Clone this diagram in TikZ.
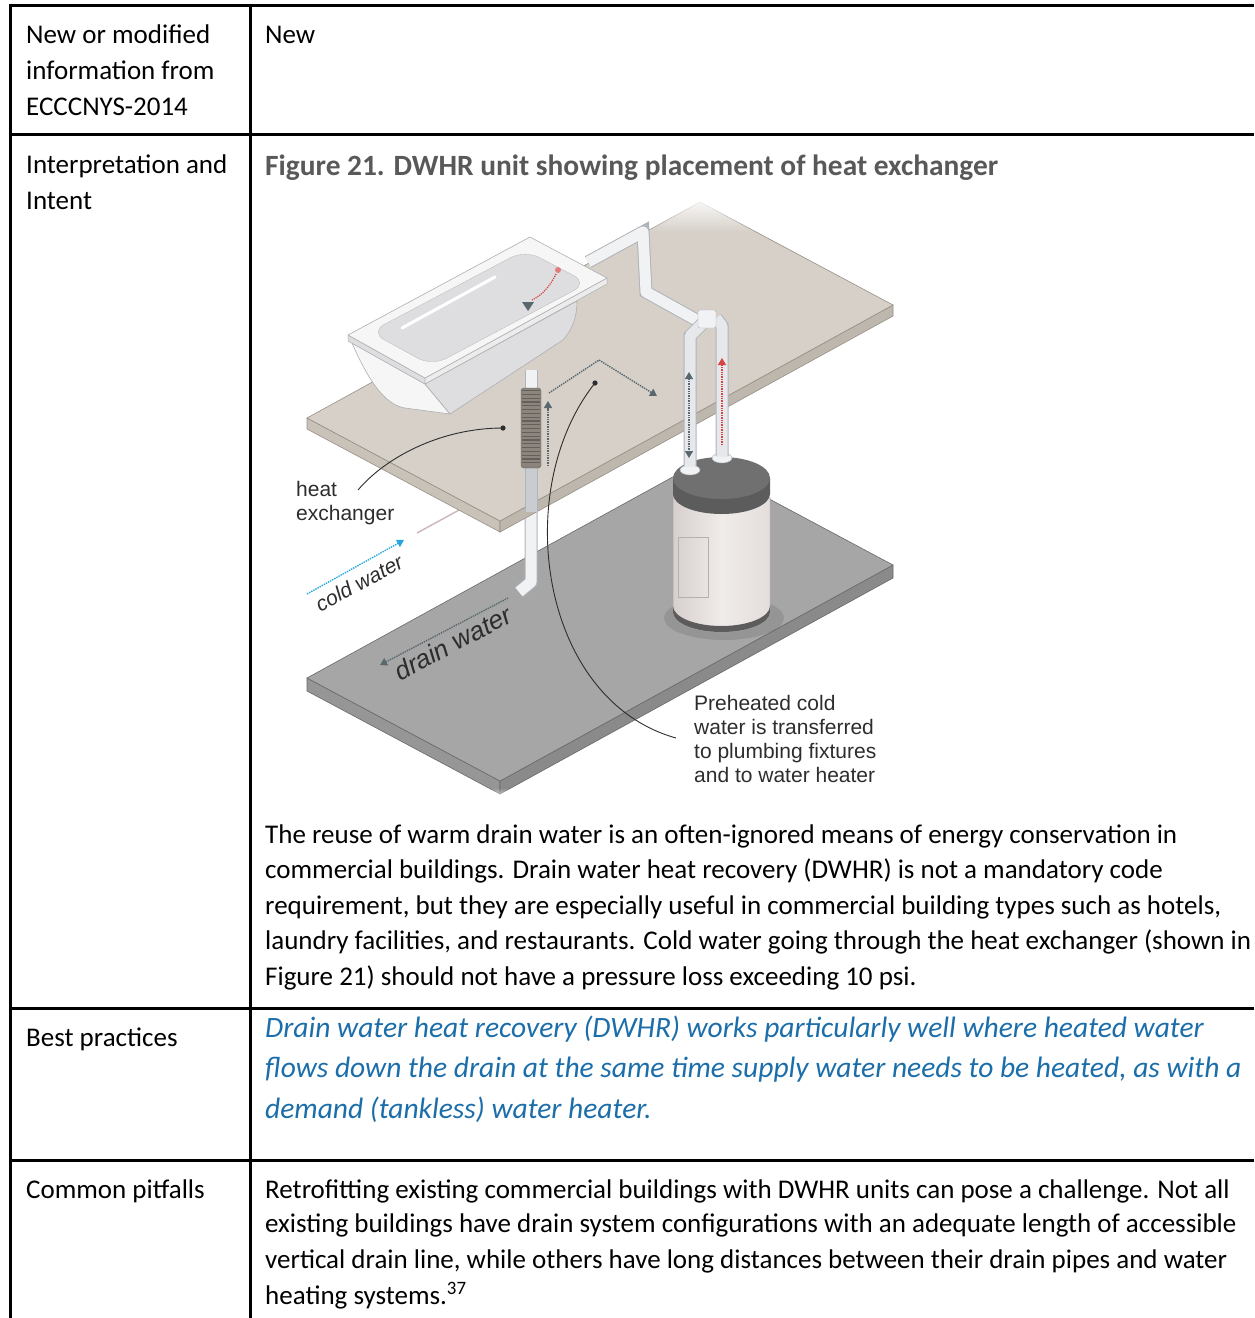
\documentclass[tikz,border=0pt]{standalone}
\usepackage{fontspec}
\setmainfont{Carlito}
\newfontfamily\figfont{Liberation Sans}
\usetikzlibrary{arrows.meta,fadings}

\definecolor{slabtop}{RGB}{214,208,200}
\definecolor{slableft}{RGB}{201,194,185}
\definecolor{slabright}{RGB}{190,183,174}
\definecolor{slabedge}{RGB}{150,143,134}
\definecolor{floortop}{RGB}{166,166,166}
\definecolor{floorleft}{RGB}{150,150,150}
\definecolor{floorright}{RGB}{138,138,138}
\definecolor{flooredge}{RGB}{105,105,105}
\definecolor{pipefill}{RGB}{240,242,244}
\definecolor{pipeedge}{RGB}{175,180,186}
\definecolor{flowgrey}{RGB}{88,104,110}
\definecolor{flowred}{RGB}{214,68,68}
\definecolor{flowblue}{RGB}{38,166,222}
\definecolor{titlegrey}{RGB}{89,89,89}
\definecolor{bestblue}{RGB}{27,110,170}
\definecolor{tubwhite}{RGB}{246,246,246}
\definecolor{tubgrey}{RGB}{222,222,224}
\definecolor{tubedge}{RGB}{175,175,178}
\definecolor{coil}{RGB}{140,133,126}
\definecolor{coildark}{RGB}{100,95,90}
\definecolor{tanklid}{RGB}{112,112,112}
\definecolor{tanklidside}{RGB}{92,92,92}
\definecolor{tankbody}{RGB}{240,236,234}
\definecolor{tankshade}{RGB}{214,207,205}
\definecolor{labelgrey}{RGB}{45,45,45}

\begin{document}
\begin{tikzpicture}[x=1pt,y=-1pt,
	rule/.style={line width=3pt},
	cell/.style={anchor=base west,inner sep=0pt,font=\fontsize{27}{32}\selectfont},
	best/.style={cell,font=\fontsize{29.5}{34}\selectfont\itshape,text=bestblue},
	pipe/.style={line width=11pt,draw=pipefill,line join=round,preaction={draw=pipeedge,line width=13pt}},
	flow/.style={densely dotted,line width=1.4pt,-{Triangle[width=8pt,length=7pt]}},
	figlabel/.style={inner sep=0pt,text=labelgrey,font=\figfont\fontsize{21}{24}\selectfont},
	leader/.style={line width=0.9pt,color=labelgrey},
	]
	\useasboundingbox (0,0) rectangle (1254,1318);
	
	\draw[rule] (10,5)--(1254,5);
	\draw[rule] (10,134)--(1254,134);
	\draw[rule] (10,1008)--(1254,1008);
	\draw[rule] (10,1160)--(1254,1160);
	\draw[rule] (10,3.5)--(10,1318);
	\draw[rule] (250,3.5)--(250,1318);
	
	\node[cell] (lblNew1) at (26,43) {New or modified};
	\node[cell] (lblNew2) at (26,79) {information from};
	\node[cell] (lblNew3) at (26,115) {ECCCNYS-2014};
	\node[cell] (valNew) at (265,43) {New};
	\node[cell] (lblInt1) at (26,173) {Interpretation and};
	\node[cell] (lblInt2) at (26,209) {Intent};
	\node[cell,font=\fontsize{29.4}{32}\selectfont\bfseries,text=titlegrey] (figTitle) at (265,175) {Figure 21. DWHR unit showing placement of heat exchanger};
	
	% lower floor
	\draw[flooredge,line width=0.6pt,fill=floorleft] (307,678)--(500,781)--(500,794)--(307,691)--cycle;
	\draw[flooredge,line width=0.6pt,fill=floorright] (500,781)--(893,565)--(893,578)--(500,794)--cycle;
	\draw[flooredge,line width=0.6pt,fill=floortop] (307,678)--(700,462)--(893,565)--(500,781)--cycle;
	
	% water heater
	\fill[black,opacity=0.1] (724,618) ellipse[x radius=60,y radius=22];
	\shade[left color=tankshade,right color=tankshade!50!tankbody,middle color=tankbody] (673,497)--(673,612) arc[start angle=180,end angle=0,x radius=48.5,y radius=20]--(770,497)--cycle;
	\draw[tankshade!80!black,line width=0.5pt] (673,497)--(673,612) arc[start angle=180,end angle=0,x radius=48.5,y radius=20]--(770,497);
	\fill[tanklidside] (673,606) arc[start angle=180,end angle=0,x radius=48.5,y radius=20]--(770,612) arc[start angle=0,end angle=180,x radius=48.5,y radius=20]--cycle;
	\draw[tankshade!85!black,line width=0.5pt] (678,537) rectangle (708,597);
	\fill[tanklidside] (673,478)--(673,494) arc[start angle=180,end angle=0,x radius=48.5,y radius=20]--(770,478)--cycle;
	\fill[tanklid] (721.5,478) ellipse[x radius=48.5,y radius=21];
	\draw[pipeedge,fill=pipefill] (690,470) ellipse[x radius=10,y radius=5];
	\draw[pipeedge,fill=pipefill] (722,458) ellipse[x radius=10,y radius=5];
	
	% drain under the floor slab
	\draw[pipe] (531,505)--(531,582)--(519,592);
	\draw[flow,flowgrey] (508,598)--(380,665);
	\draw[flow,flowblue] (307,594)--(404,540);
	\draw[line width=1.5pt,color=pipeedge!60!pink] (417,533)--(470,504);
	\node[figlabel,font=\figfont\itshape\fontsize{26}{30}\selectfont,rotate=28] (drainLabel) at (453,643) {drain water};
	\node[figlabel,font=\figfont\itshape\fontsize{21}{24}\selectfont,rotate=28] (coldLabel) at (359,583) {cold water};
	
	% upper floor
	\draw[slabedge,line width=0.6pt,fill=slableft] (307,418)--(500,521)--(500,532)--(307,429)--cycle;
	\draw[slabedge,line width=0.6pt,fill=slabright] (500,521)--(893,305)--(893,316)--(500,532)--cycle;
	\draw[slabedge,line width=0.6pt,fill=slabtop] (307,418)--(700,202)--(893,305)--(500,521)--cycle;
	\fill[white,path fading=south] (590,196) rectangle (820,232);
	\fill[white,path fading=north] (430,788) rectangle (570,800);
	
	% heat exchanger
	\draw[pipe,opacity=0.4] (531,466)--(531,512);
	\draw[pipe] (531,370)--(531,392);
	\draw[coildark,fill=coil,rounded corners=3pt] (521,388) rectangle (541,468);
	\draw[coildark,line width=18pt,dash pattern=on 1.2pt off 2.6pt] (531,390)--(531,466);
	\draw[flow,flowgrey] (548,466)--(548,401);
	\draw[flow,flowgrey] (549,393)--(599,360)--(657,396);
	
	% bathtub
	\draw[tubedge,line width=0.6pt,fill=tubwhite] (352,343) .. controls (368,380) and (385,405) .. (405,408)--(450,414)--(425,384)--cycle;
	\draw[tubedge,line width=0.6pt,fill=tubgrey] (425,384)--(577,301) .. controls (577,318) and (572,330) .. (563,340)--(450,414)--cycle;
	\draw[tubedge,line width=0.5pt,fill=tubgrey] (348,335)--(425,378)--(425,384)--(348,341)--cycle;
	\draw[tubedge,line width=0.5pt,fill=tubwhite!60!tubgrey] (425,378)--(607,278)--(607,284)--(425,384)--cycle;
	\draw[tubedge,line width=0.6pt,fill=tubwhite] (348,335)--(530,237)--(607,278)--(425,378)--cycle;
	\draw[tubedge!80,fill=tubgrey,rounded corners=16pt] (370,332)--(525,250)--(588,283)--(432,366)--cycle;
	\draw[white,line width=3pt,line cap=round] (402,328)--(495,277);
	\draw[flowred,densely dotted,line width=1.2pt] (556,274) .. controls (548,290) and (540,296) .. (532,300);
	\fill[flowred!70] (558,270) circle (3);
	\fill[flowgrey] (528,311)--(522,302)--(534,302)--cycle;
	
	% supply pipes
	\draw[pipe] (588,262)--(643,232)--(646,292)--(700,322);
	\draw[pipe,draw opacity=0.85] (704,322)--(690,336)--(690,466);
	\draw[pipe,draw opacity=0.85] (716,318)--(722,326)--(722,456);
	\draw[pipeedge,fill=pipefill,rounded corners=2pt] (698,310) rectangle (716,328);
	\draw[flowgrey,densely dotted,line width=1.4pt,{Triangle[width=8pt,length=7pt]}-{Triangle[width=8pt,length=7pt]}] (689,372)--(689,458);
	\draw[flow,flowred] (722,445)--(722,358);
	
	% labels and leaders
	\node[figlabel,anchor=north west,align=left] (hxLabel) at (296,481) {heat\\exchanger};
	\node[figlabel,anchor=north west,align=left] (preLabel) at (694,695) {Preheated cold\\water is transferred\\to plumbing fixtures\\and to water heater};
	\coordinate (hxDot) at (503,428);
	\coordinate (hxFoot) at (358,490);
	\draw[leader] (hxFoot) .. controls (385,458) and (440,428) .. (hxDot);
	\fill[labelgrey] (hxDot) circle (2.6);
	\coordinate (preDot) at (595,383);
	\coordinate (preFoot) at (676,738);
	\draw[leader] (preFoot) .. controls (540,700) and (510,490) .. (preDot);
	\fill[labelgrey] (preDot) circle (2.6);
	
	\node[cell] (body1) at (265,843) {The reuse of warm drain water is an often-ignored means of energy conservation in};
	\node[cell] (body2) at (265,878) {commercial buildings. Drain water heat recovery (DWHR) is not a mandatory code};
	\node[cell] (body3) at (265,914) {requirement, but they are especially useful in commercial building types such as hotels,};
	\node[cell] (body4) at (265,949) {laundry facilities, and restaurants. Cold water going through the heat exchanger (shown in};
	\node[cell] (body5) at (265,985) {Figure 21) should not have a pressure loss exceeding 10 psi.};
	
	\node[cell] (lblBest) at (26,1046) {Best practices};
	\node[best] (best1) at (265,1037) {Drain water heat recovery (DWHR) works particularly well where heated water};
	\node[best] (best2) at (265,1077) {flows down the drain at the same time supply water needs to be heated, as with a};
	\node[best] (best3) at (265,1118) {demand (tankless) water heater.};
	
	\node[cell] (lblPit) at (26,1198) {Common pitfalls};
	\node[cell] (pit1) at (265,1198) {Retrofitting existing commercial buildings with DWHR units can pose a challenge. Not all};
	\node[cell] (pit2) at (265,1232) {existing buildings have drain system configurations with an adequate length of accessible};
	\node[cell] (pit3) at (265,1268) {vertical drain line, while others have long distances between their drain pipes and water};
	\node[cell] (pit4) at (265,1304) {heating systems.\textsuperscript{37}};
\end{tikzpicture}
\end{document}
